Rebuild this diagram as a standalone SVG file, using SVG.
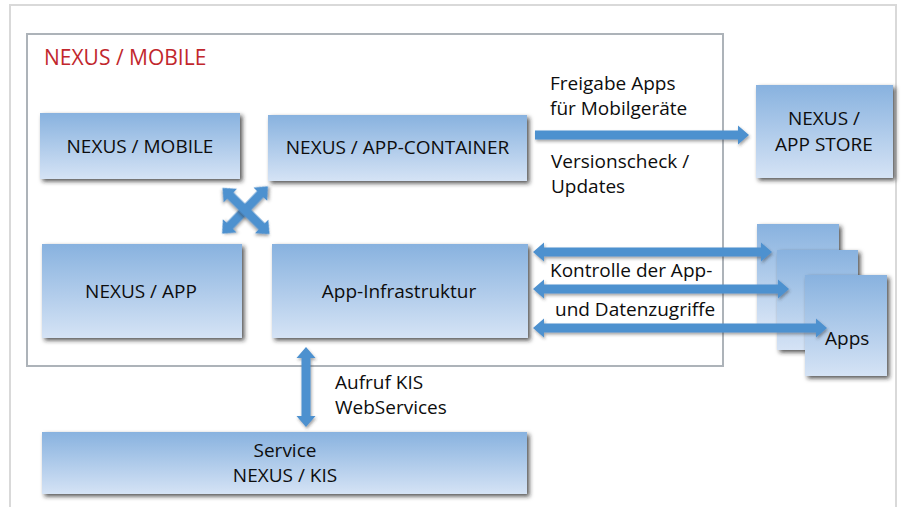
<svg xmlns="http://www.w3.org/2000/svg" xmlns:xlink="http://www.w3.org/1999/xlink" width="906" height="507" viewBox="0 0 906 507">
  <style>
    .box { fill: url(#boxGrad); filter: url(#boxShadow); }
    .lbl { font-family: "Open Sans", "Liberation Sans", sans-serif; font-size: 19px; fill: #0d0d0d; }
    .mid { text-anchor: middle; }
    .title { font-family: "Open Sans", "Liberation Sans", sans-serif; font-size: 21px; fill: #c1272d; }
    .arrow { fill: #4e91cf; filter: url(#arrowShadow); }
  </style>
  <defs>
    <linearGradient id="boxGrad" x1="0" y1="0" x2="0" y2="1">
      <stop offset="0" stop-color="#88b2df"/>
      <stop offset="1" stop-color="#d5e3f5"/>
    </linearGradient>
    <filter id="boxShadow" x="-10%" y="-10%" width="125%" height="130%">
      <feDropShadow dx="2.5" dy="2.5" stdDeviation="2" flood-color="#222" flood-opacity="0.75"/>
    </filter>
    <filter id="arrowShadow" x="-10%" y="-30%" width="120%" height="160%">
      <feDropShadow dx="1" dy="2" stdDeviation="1.5" flood-color="#333" flood-opacity="0.45"/>
    </filter>
    <polygon id="diagArrow" points="-33,0 -22,-9.5 -22,-4.5 22,-4.5 22,-9.5 33,0 22,9.5 22,4.5 -22,4.5 -22,9.5"/>
  </defs>

  <rect x="0" y="0" width="906" height="507" fill="#ffffff"/>

  <!-- outer frame -->
  <rect id="frame" x="10" y="5" width="886" height="530" fill="none" stroke="#d9d9d9" stroke-width="2"/>

  <!-- NEXUS / MOBILE container -->
  <g id="container">
    <rect x="27" y="34" width="696" height="332" fill="none" stroke="#adb3b9" stroke-width="2"/>
    <text class="title" x="44" y="65">NEXUS / MOBILE</text>
  </g>

  <g id="node-mobile">
    <rect class="box" x="40" y="113" width="200" height="66"/>
    <text class="lbl mid" x="140" y="153">NEXUS / MOBILE</text>
  </g>

  <g id="node-container">
    <rect class="box" x="268" y="115" width="259" height="66"/>
    <text class="lbl mid" x="397.5" y="154">NEXUS / APP-CONTAINER</text>
  </g>

  <g id="node-app">
    <rect class="box" x="42" y="244" width="200" height="94"/>
    <text class="lbl mid" x="141" y="298">NEXUS / APP</text>
  </g>

  <g id="node-infra">
    <rect class="box" x="272" y="244" width="256" height="94"/>
    <text class="lbl mid" x="399" y="298">App-Infrastruktur</text>
  </g>

  <g id="node-appstore">
    <rect class="box" x="756" y="85" width="137" height="93"/>
    <text class="lbl mid" x="824" y="125">NEXUS /</text>
    <text class="lbl mid" x="824" y="151">APP STORE</text>
  </g>

  <g id="node-apps">
    <rect class="box" x="757" y="224" width="82" height="100"/>
    <rect class="box" x="777" y="250" width="81" height="100"/>
    <rect class="box" x="805" y="275" width="82" height="101"/>
  </g>

  <g id="node-service">
    <rect class="box" x="42" y="432" width="485" height="62"/>
    <text class="lbl mid" x="285" y="457">Service</text>
    <text class="lbl mid" x="285" y="482">NEXUS / KIS</text>
  </g>

  <g id="connectors">
    <use xlink:href="#diagArrow" class="arrow" transform="translate(245,210) rotate(-46)"/>
    <use xlink:href="#diagArrow" class="arrow" transform="translate(246,211) rotate(44.5)"/>
    <polygon class="arrow" points="535,130.5 738,130.5 738,125.5 749,135 738,144.5 738,139.5 535,139.5"/>
    <polygon class="arrow" points="533,252 544,242.5 544,247.5 761,247.5 761,242.5 772,252 761,261.5 761,256.5 544,256.5 544,261.5"/>
    <polygon class="arrow" points="533,289 544,279.5 544,284.5 778,284.5 778,279.5 789,289 778,298.5 778,293.5 544,293.5 544,298.5"/>
    <polygon class="arrow" points="533,328 544,318.5 544,323.5 816,323.5 816,318.5 827,328 816,337.5 816,332.5 544,332.5 544,337.5"/>
    <polygon class="arrow" points="306,347 315.5,358 310.5,358 310.5,416 315.5,416 306,427 296.5,416 301.5,416 301.5,358 296.5,358"/>
  </g>

  <g id="labels">
    <text class="lbl" x="550" y="90">Freigabe Apps</text>
    <text class="lbl" x="550" y="115">für Mobilgeräte</text>
    <text class="lbl" x="551" y="168">Versionscheck /</text>
    <text class="lbl" x="551" y="193">Updates</text>
    <text class="lbl" x="550" y="277">Kontrolle der App-</text>
    <text class="lbl" x="555" y="316">und Datenzugriffe</text>
    <text class="lbl" x="825" y="345">Apps</text>
    <text class="lbl" x="335" y="389">Aufruf KIS</text>
    <text class="lbl" x="335" y="414">WebServices</text>
  </g>
</svg>
